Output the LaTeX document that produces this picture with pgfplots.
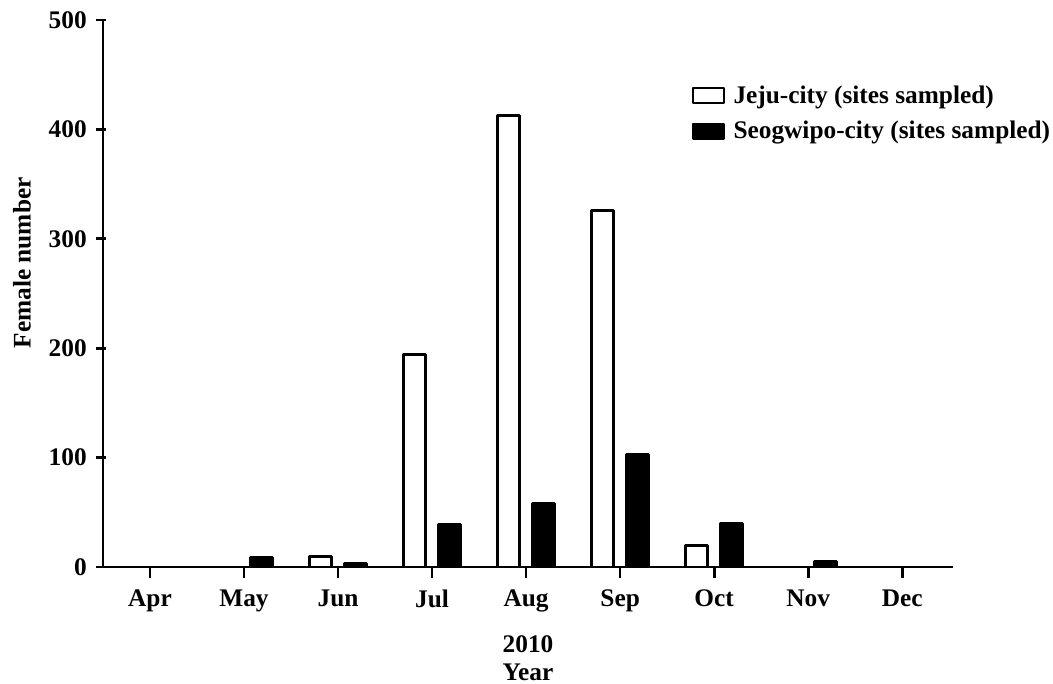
\documentclass[border=0pt]{standalone}
\usepackage{pgfplots}
\pgfplotsset{compat=1.18}
\usepackage{fontspec}
\setmainfont{Liberation Serif}

\begin{document}
\begin{tikzpicture}
\begin{axis}[
  name=ax,
  scale only axis,
  width=637.5pt, height=410.25pt,
  ybar=10pt, bar width=16.5pt,
  xmin=-0.5, xmax=8.54,
  ymin=0, ymax=500,
  xtick={0,...,8},
  xticklabels={Apr,May,Jun,Jul,Aug,Sep,Oct,Nov,Dec},
  ytick={0,100,...,500},
  axis x line*=bottom, axis y line*=left,
  axis line style={line width=2.2pt, -},
  tick style={line width=2pt, black},
  tick align=outside, major tick length=8pt,
  every y tick/.append style={xshift=2.5pt},
  /pgf/number format/assume math mode=true,
  tick label style={font=\fontsize{19}{21}\selectfont\bfseries},
  xticklabel style={yshift=-5.5pt},
  yticklabel style={xshift=-0.7pt},
  label style={font=\fontsize{19}{21}\selectfont\bfseries},
  xlabel={2010\\Year},
  xlabel style={at={(axis description cs:0.5,0)}, anchor=north, align=center,
    inner sep=0pt, yshift=-51pt},
  ylabel={Female number},
  ylabel style={at={(axis description cs:-0.0953,0.556)}, anchor=center},
  legend style={at={(0.693,0.885)}, anchor=north west, draw=none, fill=none,
    font=\fontsize{19}{21}\selectfont\bfseries, row sep=8pt, inner sep=0pt},
  legend cell align=left,
  legend image code/.code={\draw[#1, line width=1.6pt] (0pt,-5.5pt) rectangle (23pt,5.5pt); \path (27pt,0);},
]
\addplot[draw=black, fill=white, line width=2.2pt, line join=round]
  coordinates {(2,10) (3,194) (4,413) (5,326) (6,20)};
\addlegendentry{Jeju-city (sites sampled)}
\addplot[draw=black, fill=black, line width=2.2pt, line join=round]
  coordinates {(1,9) (2,3) (3,39) (4,58) (5,103) (6,40) (7,5)};
\addlegendentry{Seogwipo-city (sites sampled)}
\end{axis}
\pgfresetboundingbox
\path ([xshift=-77.25pt,yshift=-87.75pt]ax.south west) rectangle ([xshift=75pt,yshift=15pt]ax.north east);
\end{tikzpicture}
\end{document}
